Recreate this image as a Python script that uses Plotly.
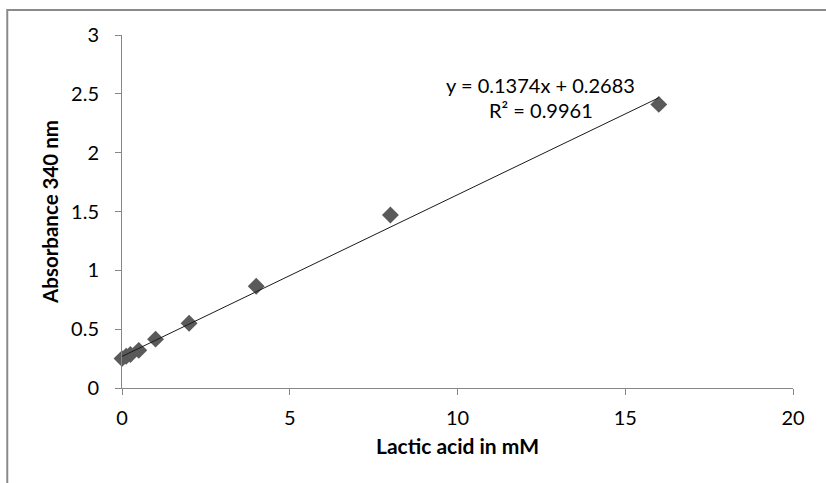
import plotly.graph_objects as go

# Data
lactic_mM = [0, 0.125, 0.25, 0.5, 1, 2, 4, 8, 16]
absorbance = [0.25, 0.27, 0.285, 0.32, 0.415, 0.55, 0.865, 1.47, 2.41]

# Trendline coefficients shown on the chart
slope = 0.1374
intercept = 0.2683
r_squared = 0.9961
trend_x = [0, 16]
trend_y = [slope * x + intercept for x in trend_x]

x_ticks = [0, 5, 10, 15, 20]
y_ticks = [0, 0.5, 1, 1.5, 2, 2.5, 3]
y_tick_labels = ["0", "0.5", "1", "1.5", "2", "2.5", "3"]

FONT = "Lato"
AXIS_COL = "#878787"

fig = go.Figure()
fig.add_trace(go.Scatter(
    x=lactic_mM, y=absorbance, mode="markers",
    marker=dict(symbol="diamond", size=13, color="#5a5a5a", line=dict(width=0)),
    showlegend=False, cliponaxis=False,
))
fig.add_trace(go.Scatter(
    x=trend_x, y=trend_y, mode="lines",
    line=dict(color="#1a1a1a", width=1),
    showlegend=False,
))

fig.add_annotation(
    x=0.6244, y=0.858, xref="x domain", yref="y domain",
    text=f"y = {slope}x + {intercept}", showarrow=False,
    font=dict(family=FONT, size=20, color="#000"), xanchor="center", yanchor="middle",
)
fig.add_annotation(
    x=0.6244, y=0.788, xref="x domain", yref="y domain",
    text=f"R² = {r_squared}", showarrow=False,
    font=dict(family=FONT, size=20, color="#000"), xanchor="center", yanchor="middle",
)

# outer chart border
fig.add_shape(type="rect", xref="paper", yref="paper",
              x0=-0.171, x1=1.3, y0=-0.6, y1=1.0708,
              line=dict(color="#8a8a8a", width=2), fillcolor="rgba(0,0,0,0)")

fig.update_xaxes(
    range=[0, 20], tickvals=x_ticks, ticktext=[str(v) for v in x_ticks],
    showgrid=False, zeroline=False, showline=True, linecolor=AXIS_COL, linewidth=1,
    ticks="outside", ticklen=6, tickcolor=AXIS_COL, ticklabelstandoff=6,
    tickfont=dict(family=FONT, size=20, color="#000"),
    title=dict(text="<b>Lactic acid in mM</b>", font=dict(family=FONT, size=21, color="#000"), standoff=11),
)
fig.update_yaxes(
    range=[0, 3], tickvals=y_ticks, ticktext=y_tick_labels,
    showgrid=False, zeroline=False, showline=True, linecolor=AXIS_COL, linewidth=1,
    ticks="outside", ticklen=6, tickcolor=AXIS_COL, ticklabelstandoff=12,
    tickfont=dict(family=FONT, size=20, color="#000"),
    title=dict(text="<b>Absorbance 340 nm</b>", font=dict(family=FONT, size=20.5, color="#000"), standoff=6),
)

fig.update_layout(
    width=826, height=483,
    margin=dict(l=122, r=33, t=35, b=95),
    plot_bgcolor="white", paper_bgcolor="white",
)

fig.write_html("out.html")
